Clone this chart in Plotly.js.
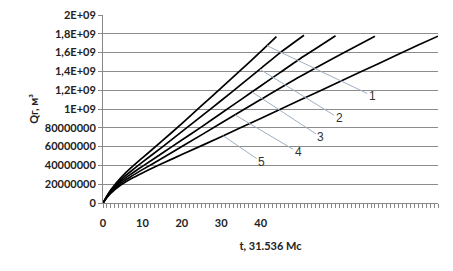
<!DOCTYPE html>
<html>
<head>
<meta charset="utf-8">
<script src="https://cdn.plot.ly/plotly-3.0.1.min.js"></script>
<style>
  html, body { margin: 0; padding: 0; background: #fff; }
  #graph { width: 453px; height: 271px; }
</style>
</head>
<body>
<div id="graph"></div>
<script>
// t, 31.536 Mc  vs  Qг, м³ (five curves)
const t1 = [0, 1, 2, 3, 4, 5, 7, 10, 15, 20, 25, 30, 35, 40, 44];
const q1 = [0, 7.5e7, 1.4e8, 1.95e8, 2.45e8, 2.9e8, 3.7e8, 4.8e8, 6.6e8, 8.45e8, 1.035e9, 1.225e9, 1.415e9, 1.61e9, 1.77e9];

const t2 = [0, 1, 2, 3, 4, 5, 7, 10, 15, 20, 25, 30, 35, 40, 45, 51];
const q2 = [0, 7.0e7, 1.3e8, 1.8e8, 2.25e8, 2.65e8, 3.35e8, 4.35e8, 5.95e8, 7.6e8, 9.25e8, 1.09e9, 1.26e9, 1.43e9, 1.6e9, 1.785e9];

const t3 = [0, 1, 2, 3, 4, 5, 7, 10, 15, 20, 25, 30, 35, 40, 45, 50, 55, 59];
const q3 = [0, 6.6e7, 1.22e8, 1.68e8, 2.1e8, 2.45e8, 3.05e8, 3.9e8, 5.3e8, 6.7e8, 8.1e8, 9.55e8, 1.1e9, 1.245e9, 1.39e9, 1.535e9, 1.67e9, 1.78e9];

const t4 = [0, 1, 2, 3, 4, 5, 7, 10, 15, 20, 30, 40, 50, 60, 69];
const q4 = [0, 6.2e7, 1.14e8, 1.56e8, 1.93e8, 2.25e8, 2.8e8, 3.55e8, 4.75e8, 6.0e8, 8.5e8, 1.1e9, 1.345e9, 1.575e9, 1.775e9];

const t5 = [0, 1, 2, 3, 4, 5, 7, 10, 15, 20, 30, 40, 50, 60, 70, 80, 85];
const q5 = [0, 5.8e7, 1.05e8, 1.43e8, 1.76e8, 2.05e8, 2.55e8, 3.2e8, 4.2e8, 5.15e8, 7.05e8, 9.0e8, 1.095e9, 1.29e9, 1.485e9, 1.68e9, 1.775e9];

const curveNames = ["1", "2", "3", "4", "5"];

const yTickVals = [0, 2e8, 4e8, 6e8, 8e8, 1e9, 1.2e9, 1.4e9, 1.6e9, 1.8e9, 2e9];
const yTickText = ["0", "20000000", "40000000", "60000000", "80000000", "1E+09", "1,2E+09", "1,4E+09", "1,6E+09", "1,8E+09", "2E+09"];
const xTickVals = [0, 10, 20, 30, 40];

const series = [[t1, q1], [t2, q2], [t3, q3], [t4, q4], [t5, q5]];

// where each leader line touches its curve (t) and where its number sits
const leaderT = [41.6, 39.8, 37.8, 33.5, 30.5];
const labelPos = [[68.3, 1.14e9], [59.9, 9.0e8], [55.3, 7.0e8], [49.5, 5.4e8], [40.3, 4.35e8]];

function interp(ts, qs, t) {
    for (let i = 1; i < ts.length; i++) {
        if (t <= ts[i]) {
            let k = (t - ts[i-1]) / (ts[i] - ts[i-1]);
            return qs[i-1] + k * (qs[i] - qs[i-1]);
        }
    }
    return qs[qs.length-1];
}

let traces = series.map((s, i) => ({
    x: s[0], y: s[1], mode: 'lines', name: curveNames[i],
    line: {color: '#000', width: 1.7, shape: 'spline', smoothing: 0.8},
    hoverinfo: 'skip'
}));

let annotations = series.map((s, i) => ({
    x: leaderT[i], y: interp(s[0], s[1], leaderT[i]),
    xref: 'x', yref: 'y',
    ax: labelPos[i][0], ay: labelPos[i][1], axref: 'x', ayref: 'y',
    text: curveNames[i], showarrow: true, arrowhead: 0, arrowwidth: 1,
    arrowcolor: '#9db0c2', standoff: 0, startstandoff: 0,
    font: {family: 'Liberation Sans, Arial, sans-serif', size: 12, color: '#333'}
}));

let layout = {
    width: 453, height: 271,
    margin: {l: 103, r: 15, t: 15, b: 68},
    paper_bgcolor: '#fff', plot_bgcolor: '#fff',
    showlegend: false,
    font: {family: 'Lato, sans-serif', size: 11, color: '#222'},
    xaxis: {
        range: [0, 85], tickmode: 'array', tickvals: xTickVals,
        ticks: 'outside', ticklen: 4, tickcolor: '#888', ticklabelstandoff: 6,
        showline: true, linecolor: '#888', linewidth: 1,
        showgrid: false, zeroline: false,
        minor: {tickmode: 'linear', tick0: 0, dtick: 1, ticks: 'outside', ticklen: 4, tickcolor: '#888', showgrid: false},
        tickfont: {family: 'Lato, sans-serif', size: 11, weight: 'bold', color: '#222'},
        title: {text: 't, 31.536 Мс', font: {family: 'Lato, sans-serif', size: 11, weight: 'bold', color: '#222'}, standoff: 14}
    },
    yaxis: {
        range: [0, 2e9], tickmode: 'array', tickvals: yTickVals, ticktext: yTickText,
        ticks: 'outside', ticklen: 4, tickcolor: '#888',
        showline: true, linecolor: '#888', linewidth: 1,
        showgrid: true, gridcolor: '#8c8c8c', gridwidth: 1, zeroline: false,
        tickfont: {family: 'Lato, sans-serif', size: 11, weight: 'bold', color: '#222'},
        title: {text: 'Qг, м³', font: {family: 'Lato, sans-serif', size: 11, weight: 'bold', color: '#222'}, standoff: 3}
    },
    annotations: annotations
};

Plotly.newPlot('graph', traces, layout, {displayModeBar: false, staticPlot: true});
</script>
</body>
</html>
